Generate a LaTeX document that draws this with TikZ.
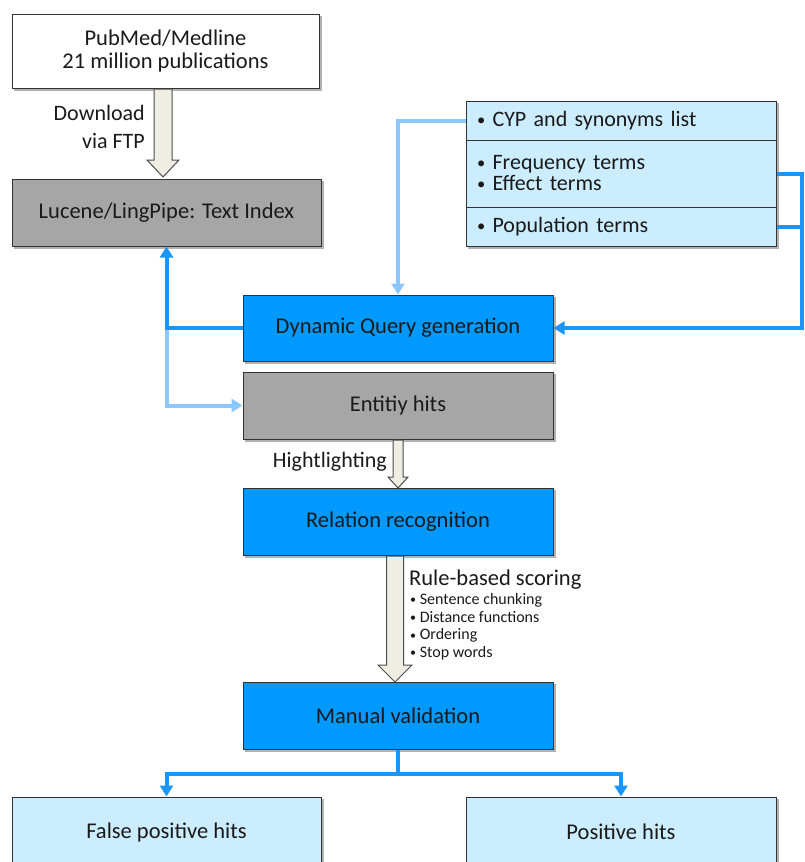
\documentclass[tikz,border=0pt]{standalone}
\usepackage{fontspec}
\setmainfont{Carlito}
\usetikzlibrary{arrows.meta,shadows,calc}
\definecolor{bbox}{HTML}{0099FF}
\definecolor{gbox}{HTML}{A6A6A6}
\definecolor{lbox}{HTML}{CCECFF}
\definecolor{dkline}{HTML}{1A96FA}
\definecolor{ltline}{HTML}{8CC8FF}
\definecolor{hfill}{HTML}{EEEEE2}
\definecolor{txt}{HTML}{1A1A1A}
\newcommand{\bul}{\raisebox{0.12ex}{\scalebox{0.75}{•}}}
\tikzset{
  box/.style={draw=black!80, line width=1pt, minimum width=310pt, minimum height=67pt,
    inner sep=0pt, text=txt, font=\fontsize{22.5}{24}\selectfont},
  bluebox/.style={box, fill=bbox},
  graybox/.style={box, fill=gbox},
  whitebox/.style={box, fill=white},
  lightbox/.style={box, fill=lbox},
  rowbox/.style={draw=black!80, line width=1pt, fill=lbox, minimum width=310pt, inner xsep=11pt,
    text width=288pt, align=left, text=txt, font=\fontsize{22}{21}\selectfont},
  dk/.style={draw=dkline, line width=4pt},
  lt/.style={draw=ltline, line width=4pt},
  tip/.style={-{Triangle[length=11pt,width=13pt]}},
  hollow/.style={draw=black!70, line width=1pt, fill=hfill, line join=miter},
  lab/.style={text=txt, inner sep=0pt, font=\fontsize{22}{28}\selectfont},
  shad/.style={fill=black, opacity=0.3}
}
\begin{document}
\begin{tikzpicture}[x=1pt,y=-1pt]
\useasboundingbox (0,0) rectangle (804,862);
\clip (0,0) rectangle (804,862);
% drop shadows
\fill[shad] (468,103) rectangle (779,249);
\fill[shad] (14,16) rectangle (322,91);
\fill[shad] (14,181) rectangle (324,249);
\fill[shad] (245,297) rectangle (556,364);
\fill[shad] (245,374) rectangle (556,442);
\fill[shad] (245,490) rectangle (556,558);
\fill[shad] (245,684) rectangle (556,752);
\fill[shad] (14,799) rectangle (324,870);
\fill[shad] (468,799) rectangle (779,870);

\node[rowbox, minimum height=39pt] (r1) at (621,120.5) {\bul\ CYP and synonyms list};
\node[rowbox, minimum height=67pt] (r2) at (621,173.5) {\bul\ Frequency terms\\\bul\ Effect terms};
\node[rowbox, minimum height=39pt] (r3) at (621,226.5) {\bul\ Population terms};

\node[whitebox, minimum width=307pt, minimum height=74pt, align=center] (pub) at (165.5,51) {PubMed/Medline\\21 million publications};
\node[graybox, minimum width=309pt] (luc) at (166.5,212.5) {Lucene/LingPipe: Text Index};
\node[bluebox, minimum height=66pt] (dq) at (398,328) {Dynamic Query generation};
\node[graybox] (ent) at (398,405.5) {Entitiy hits};
\node[bluebox] (rel) at (398,521.5) {Relation recognition};
\node[bluebox] (man) at (398,715.5) {Manual validation};
\node[lightbox, minimum width=309pt, minimum height=70pt] (fp) at (166.5,832) {False positive hits};
\node[lightbox, minimum height=70pt] (pos) at (621,832) {Positive hits};

% hollow arrows
\draw[hollow] (154,89) -- (172,89) -- (172,160) -- (179,160) -- (163,177) -- (147,160) -- (154,160) -- cycle;
\draw[hollow] (393,440) -- (403,440) -- (403,477) -- (408,477) -- (398,488) -- (388,477) -- (393,477) -- cycle;
\draw[hollow] (386.5,556) -- (403.5,556) -- (403.5,665) -- (412,665) -- (395,682) -- (378,665) -- (386.5,665) -- cycle;

% labels
\node[lab, anchor=east, align=right] (dl) at (145,127) {Download\\via FTP};
\node[lab, anchor=east] (hl) at (387,462) {Hightlighting};
\node[lab, anchor=west, font=\fontsize{22.5}{24}\selectfont] (rb) at (409,580) {Rule-based scoring};
\node[lab, anchor=north west, align=left, font=\fontsize{16}{17.8}\selectfont] (rbl) at (410,593)
  {\bul\ Sentence chunking\\\bul\ Distance functions\\\bul\ Ordering\\\bul\ Stop words};

% connectors
\coordinate (jl) at (luc.south |- dq.west);
\draw[lt, tip] (jl) |- (ent.west);
\draw[dk, tip] (dq.west) -| (luc.south);
\draw[lt, tip] (r1.west) -| (dq.north);
\coordinate (rx) at (801.5,0);
\draw[dk] (r3.east) -- (r3.east -| rx);
\draw[dk, tip] (r2.east) -- (r2.east -| rx) |- (dq.east);
\draw[dk] (man.south) -- ++(0,24) coordinate (mj);
\draw[dk, tip] (mj) -| (fp.north);
\draw[dk, tip] (mj) -| (pos.north);
\end{tikzpicture}
\end{document}
